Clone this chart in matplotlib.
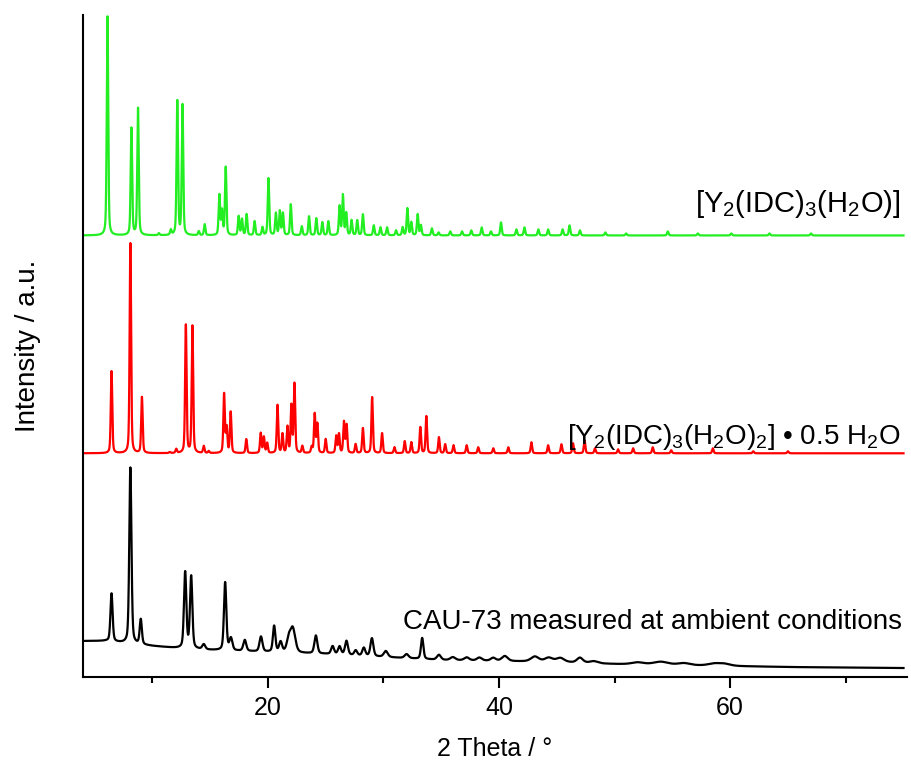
import numpy as np
import matplotlib
matplotlib.use('Agg')
import matplotlib.pyplot as plt
from matplotlib.ticker import MultipleLocator

plt.rcParams['font.family'] = ['Liberation Sans', 'DejaVu Sans']
plt.rcParams['mathtext.fontset'] = 'custom'
plt.rcParams['mathtext.rm'] = 'Liberation Sans'

# peak lists: 2theta positions and heights (arbitrary units)
green_pos = [6.12, 8.19, 8.76, 10.57, 11.6, 12.16, 12.61, 14.02, 14.53, 15.8, 16.03, 16.35,
             17.47, 17.76, 18.16, 18.85, 19.53, 20.05, 20.69, 21.03, 21.3, 21.98, 22.93,
             23.56, 24.19, 24.71, 25.23, 26.2, 26.49, 26.78, 27.24, 27.73, 28.22, 29.16,
             29.74, 30.31, 31.09, 31.66, 32.07, 32.41, 32.96, 33.24, 34.19, 34.77, 35.78,
             36.8, 37.6, 38.5, 39.3, 40.17, 41.5, 42.2, 43.4, 44.25, 45.5, 46.1, 47.0,
             49.2, 51.0, 54.6, 57.2, 60.1, 63.4, 67.0]
green_h = [219, 107, 127, 2, 5, 134, 130, 4, 11, 40, 24, 68,
           19, 16, 21, 14, 8, 57, 22, 24, 22, 31, 9,
           19, 17, 13, 14, 29, 40, 22, 15, 15, 21, 10,
           8, 8, 5, 8, 27, 13, 21, 10, 7, 3, 4,
           4, 5, 8, 4, 13, 6, 8, 6, 6, 6, 10, 5,
           3, 2, 4, 2, 2, 2, 2]

red_pos = [6.47, 8.1, 9.1, 11.5, 12.07, 12.9, 13.47, 14.45, 14.88, 16.21, 16.43, 16.78,
           18.13, 19.38, 19.65, 19.94, 20.83, 21.26, 21.69, 22.03, 22.3, 22.98, 23.79,
           24.05, 24.28, 25.0, 25.91, 26.15, 26.58, 26.81, 27.59, 28.22, 29.02, 29.88,
           30.95, 31.84, 32.41, 33.19, 33.71, 34.8, 35.34, 36.06, 37.2, 38.2, 39.5, 40.8,
           42.8, 44.25, 45.4, 46.4, 47.4, 48.3, 50.3, 51.6, 53.3, 54.9, 58.5, 62.0, 65.0]
red_h = [82, 210, 56, 1, 4, 128, 127, 7, 2, 59, 25, 41,
         14, 20, 16, 10, 48, 19, 26, 47, 69, 7, 6,
         39, 29, 14, 17, 19, 31, 28, 9, 25, 56, 20,
         6, 12, 11, 26, 37, 16, 9, 8, 8, 6, 5, 6,
         11, 8, 9, 10, 13, 5, 4, 5, 6, 3, 5, 2, 2]

black_pos = [6.47, 8.1, 9.0, 12.84, 13.36, 14.45, 16.3, 16.8, 18.0, 19.4, 20.54, 21.1,
             21.8, 22.15, 24.15, 25.6, 26.2, 26.8, 27.6, 28.3, 29.0, 30.2, 32.0, 33.35,
             34.8, 36.0, 37.2, 38.3, 39.5, 40.5, 43.1, 44.3, 45.3, 47.0, 48.2, 52.0,
             54.0, 56.0, 58.6, 59.5]
black_h = [48, 176, 25, 76, 72, 5, 68, 12, 11, 15, 26, 10,
           12, 24, 18, 8, 8, 14, 5, 8, 18, 6, 4, 21,
           5, 3, 3, 3, 3, 5, 5, 4, 4, 5, 2, 2,
           3, 2, 2, 2]
black_w = [0.22, 0.22, 0.22, 0.24, 0.24, 0.3, 0.24, 0.3, 0.3, 0.3, 0.25, 0.3,
           0.4, 0.5, 0.3, 0.3, 0.3, 0.3, 0.3, 0.3, 0.3, 0.4, 0.4, 0.25,
           0.4, 0.5, 0.5, 0.5, 0.5, 0.6, 0.8, 0.8, 0.8, 0.6, 0.8, 1.2,
           1.5, 1.2, 1.2, 1.2]

# measured background of the black pattern (2theta, level)
bg_x = [4, 6, 7.5, 10, 12, 15, 20, 25, 30, 35, 40, 45, 50, 55, 60, 65, 75]
bg_y = [36, 36, 34, 31, 29, 27, 25, 23, 20, 17, 16, 15, 13, 12, 11, 10, 9]

labels = [r'[Y$_\mathregular{2}$(IDC)$_\mathregular{3}$(H$_\mathregular{2}$O)]',
          r'[Y$_\mathregular{2}$(IDC)$_\mathregular{3}$(H$_\mathregular{2}$O)$_\mathregular{2}$] • 0.5 H$_\mathregular{2}$O',
          'CAU-73 measured at ambient conditions']


def pattern(tt, pos, h, w):
  w = np.broadcast_to(w, len(pos))
  y = np.zeros_like(tt)
  for p, a, fw in zip(pos, h, w):
    g = np.exp(-4 * np.log(2) * ((tt - p) / fw) ** 2)
    l = 1.0 / (1 + 4 * ((tt - p) / fw) ** 2)
    y += a * (0.6 * g + 0.4 * l)
  return y


tt = np.linspace(4, 75, 7101)
green = 441.5 + pattern(tt, green_pos, green_h, 0.15)
red = 223.7 + pattern(tt, red_pos, red_h, 0.15)
black = np.interp(tt, bg_x, bg_y) + pattern(tt, black_pos, black_h, black_w)

fig = plt.figure(figsize=(9.12, 7.69), dpi=100)
ax = fig.add_axes([0.091, 0.1196, 0.9035, 0.861])

ax.plot(tt, green, color='#22EE22', lw=1.6)
ax.plot(tt, red, color='#FF0000', lw=1.6)
ax.plot(tt, black, color='black', lw=1.6)

ax.text(74.7, 473, labels[0], ha='right', va='center', fontsize=21)
ax.text(74.7, 240, labels[1], ha='right', va='center', fontsize=20)
ax.text(74.9, 55, labels[2], ha='right', va='center', fontsize=20)

ax.set_xlim(4, 75.3)
ax.set_ylim(0, 662)
ax.spines['top'].set_visible(False)
ax.spines['right'].set_visible(False)
for s in ('left', 'bottom'):
  ax.spines[s].set_linewidth(1.5)
ax.set_yticks([])
ax.xaxis.set_major_locator(MultipleLocator(20))
ax.xaxis.set_minor_locator(MultipleLocator(10))
ax.tick_params(axis='x', which='major', direction='out', length=8, width=1.5, labelsize=18, pad=6)
ax.tick_params(axis='x', which='minor', direction='out', length=4, width=1.5)

ax.set_xlabel('2 Theta / °', fontsize=18, labelpad=12)
ax.set_ylabel('Intensity / a.u.', fontsize=20, labelpad=30)

plt.savefig('out.png', dpi=100)
